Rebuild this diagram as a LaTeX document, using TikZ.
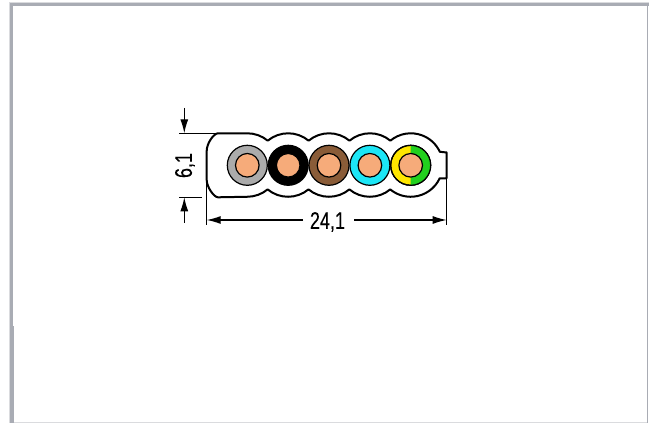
\documentclass[tikz,border=0pt]{standalone}
\usepackage{fontspec}
\setmainfont{Liberation Sans}
\newfontfamily\dimfont[FakeBold=0.25]{Liberation Sans}
\usetikzlibrary{calc,arrows.meta}
\definecolor{framegray}{HTML}{A9ACB4}
\definecolor{framelight}{HTML}{DADBDE}
\definecolor{copper}{HTML}{F6AB7A}
\definecolor{sheathgray}{HTML}{ABABAB}
\definecolor{sheathbrown}{HTML}{8A5C38}
\definecolor{sheathblue}{HTML}{1CE6F6}
\definecolor{sheathyellow}{HTML}{FFE600}
\definecolor{sheathgreen}{HTML}{22D01E}
\tikzset{
  outline/.style={black, line width=2pt, line join=round},
  extline/.style={black, line width=1.2pt},
  dimline/.style={black, line width=1.2pt, -{Latex[length=14pt,width=8pt]}},
  wire/.style={black, line width=1.2pt},
  dimtext/.style={inner sep=0pt, font=\dimfont\fontsize{24}{24}\selectfont},
}
\begin{document}
\begin{tikzpicture}[x=1pt,y=1pt]
     \useasboundingbox (0,0) rectangle (649,423);
     % frame
     \fill[framelight] (9,0) rectangle (10,421);
     \fill[framelight] (10,420) rectangle (649,421);
     \fill[framegray] (10,0) rectangle (13,420);
     \fill[framegray] (13,0) rectangle (14,97);
     \fill[framegray] (10,417) rectangle (649,420);
     \fill[framegray] (647,0) rectangle (648,417);
     \fill[framelight] (14,0) rectangle (647,1.2);

     \coordinate (TL) at (218.0, 289.7);
     \coordinate (BL) at (218.0, 225.7);
     \coordinate (LU) at (206.7, 272.0);
     \coordinate (LD) at (206.7, 243.0);
     \coordinate (TabA) at (446.7, 270.5);
     \coordinate (TabB) at (446.7, 244.7);

     % cable body
     \draw[outline, fill=white] (TL) -- (247.3,289.7)
        arc[start angle=90, end angle=50.3, radius=32pt]
        arc[start angle=129.7, end angle=50.3, radius=32pt]
        arc[start angle=129.7, end angle=50.3, radius=32pt]
        arc[start angle=129.7, end angle=50.3, radius=32pt]
        arc[start angle=129.7, end angle=25, radius=32pt] -- (TabA)
        -- (TabB) -- (439.7,244.7)
        arc[start angle=-25, end angle=-129.7, radius=32pt]
        arc[start angle=-50.3, end angle=-129.7, radius=32pt]
        arc[start angle=-50.3, end angle=-129.7, radius=32pt]
        arc[start angle=-50.3, end angle=-129.7, radius=32pt]
        arc[start angle=-50.3, end angle=-90, radius=32pt] -- (BL)
        .. controls (214.0,225.7) and (206.7,236.0) .. (LD) -- (LU)
        .. controls (206.7,280.0) and (214.0,289.7) .. (TL) -- cycle;

     % wires
     \foreach \name/\xpos/\col in {gray/247.3/sheathgray, black/288.2/black, brown/329.0/sheathbrown, blue/369.9/sheathblue, pe/410.7/sheathyellow}{
        \coordinate (W\name) at (\xpos, 257.7);
        \draw[wire, fill=\col] (W\name) circle[radius=20pt];
     }
     \fill[sheathgreen] (Wpe) ++(0,20) arc[start angle=90, end angle=-90, radius=20pt] -- cycle;
     \draw[wire] (Wpe) circle[radius=20pt];
     \foreach \name in {gray,black,brown,blue,pe}{
        \draw[wire, fill=copper] (W\name) circle[radius=11.8pt];
     }

     % dimensions
     \coordinate (HA) at (179.0, 289.7);
     \coordinate (HB) at (179.0, 225.7);
     \coordinate (HTop) at (184.3, 315.0);
     \coordinate (HLow) at (184.3, 200.0);
     \coordinate (WLeft) at (206.7, 198.0);
     \coordinate (WRight) at (446.7, 198.0);
     \draw[extline] (HA) -- (TL);
     \draw[extline] (HB) -- (202.0, 225.7);
     \draw[extline] (LD) -- (WLeft);
     \draw[extline] (TabB) -- (WRight);
     \draw[dimline] (HTop) -- (184.3, 289.7);
     \draw[dimline] (HLow) -- (184.3, 225.7);
     \node[dimtext, rotate=90, xscale=0.75] (height) at (185.0, 257.5) {6,1};
     \node[dimtext, xscale=0.75] (width) at (327.5, 201.0) {24,1};
     \draw[dimline] (303.0, 203.0) -- (206.7, 203.0);
     \draw[dimline] (354.0, 203.0) -- (446.7, 203.0);
  \end{tikzpicture}
\end{document}
